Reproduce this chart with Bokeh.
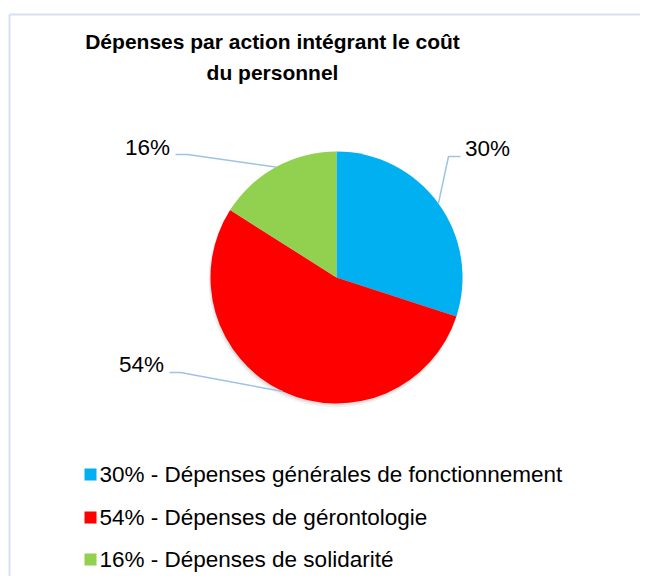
import math
from bokeh.plotting import figure
from bokeh.models import Range1d
from bokeh.core.properties import value
from bokeh.embed import file_html
from bokeh.resources import INLINE

# ---- data ----
title_lines = ["Dépenses par action intégrant le coût", "du personnel"]
categories = ["Dépenses générales de fonctionnement", "Dépenses de gérontologie", "Dépenses de solidarité"]
values = [30, 54, 16]
pct_labels = ["30%", "54%", "16%"]
colors = ["#00B0F0", "#FF0000", "#92D050"]

W, H = 640, 576
FONT = "Liberation Sans"

def sx(x):  # picture x -> data x
    return x

def sy(y):  # picture y -> data y
    return H - y

p = figure(width=W, height=H, output_backend="svg", toolbar_location=None,
           x_range=Range1d(0, W), y_range=Range1d(0, H), min_border=0)
p.axis.visible = False
p.grid.visible = False
p.outline_line_color = None
p.background_fill_color = "white"

# chart border (cropped on right/bottom)
p.multi_line(xs=[[sx(9), sx(9)], [sx(9), W + 20]],
             ys=[[-20, sy(14)], [sy(14), sy(14)]],
             line_color="#D5E1F1", line_width=2)

# title
for i, t in enumerate(title_lines):
    p.text(x=[sx(272)], y=[sy(41 + 31 * i)], text=[t], text_align="center",
           text_baseline="middle", text_font=value(FONT), text_font_style="bold",
           text_font_size="21px", text_color="#000000")

# pie
cx, cy, r = sx(336), sy(277), 126
total = float(sum(values))
starts, ends, mids = [], [], []
acc = 0.0
for v in values:
    f0 = acc / total
    acc += v
    f1 = acc / total
    starts.append(math.pi / 2 - 2 * math.pi * f0)
    ends.append(math.pi / 2 - 2 * math.pi * f1)
    mids.append(math.pi / 2 - 2 * math.pi * (f0 + f1) / 2)

# soft shadow
p.circle(x=[cx - 1], y=[cy - 3], radius=r + 1, radius_units="screen",
         fill_color="#000000", fill_alpha=0.06, line_color=None)
p.circle(x=[cx - 0.5], y=[cy - 2], radius=r, radius_units="screen",
         fill_color="#000000", fill_alpha=0.08, line_color=None)

p.wedge(x=[cx] * 3, y=[cy] * 3, radius=r, radius_units="screen",
        start_angle=starts, end_angle=ends, direction="clock",
        fill_color=colors, line_color=None)

# data labels with leader lines (label centre, elbow point, line start)
label_layout = {
    "30%": ((487, 148), (448, 156), (460, 156)),
    "54%": ((141, 364), (180, 372), (169, 372)),
    "16%": ((147, 147), (187, 154), (175, 154)),
}
for lab, m in zip(pct_labels, mids):
    (lx, ly), (ex, ey), (s0x, s0y) = label_layout[lab]
    px = cx + r * math.cos(m)
    py = cy + r * math.sin(m)
    p.line(x=[sx(s0x), sx(ex), px], y=[sy(s0y), sy(ey), py],
           line_color="#9DC3E6", line_width=1.5)
    p.text(x=[sx(lx)], y=[sy(ly)], text=[lab], text_align="center",
           text_baseline="middle", text_font=value(FONT),
           text_font_size="22.5px", text_color="#000000")

# legend
rows_y = [474, 517, 559]
for cat, lab, col, yy in zip(categories, pct_labels, colors, rows_y):
    p.rect(x=[sx(90)], y=[sy(yy)], width=12, height=12, width_units="screen",
           height_units="screen", fill_color=col, line_color=None)
    p.text(x=[sx(99)], y=[sy(yy)], text=[f"{lab} - {cat}"], text_align="left",
           text_baseline="middle", text_font=value(FONT),
           text_font_size="22.5px", text_color="#000000")

open("out.html", "w").write(file_html(p, INLINE))
